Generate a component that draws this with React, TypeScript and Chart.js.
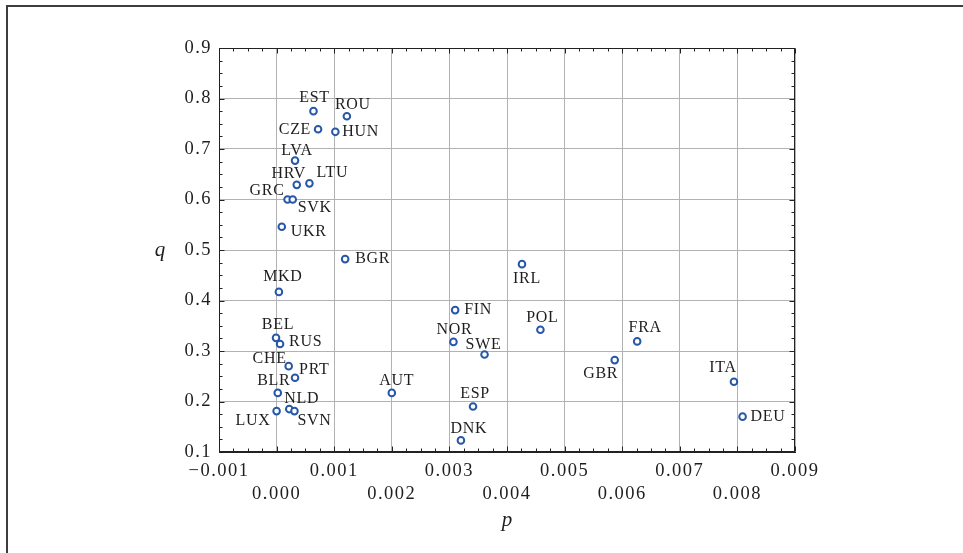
import React, { useEffect, useRef } from 'react';
import { Chart, registerables } from 'chart.js';

Chart.register(...registerables);

const countries = ['EST', 'ROU', 'CZE', 'HUN', 'LVA', 'HRV', 'LTU', 'GRC', 'SVK', 'UKR', 'BGR', 'MKD', 'BEL', 'RUS', 'CHE', 'PRT', 'BLR', 'LUX', 'NLD', 'SVN', 'AUT', 'FIN', 'NOR', 'SWE', 'POL', 'ESP', 'DNK', 'IRL', 'GBR', 'FRA', 'ITA', 'DEU'];
const pValues = [0.00064, 0.00122, 0.00072, 0.00102, 0.00032, 0.00035, 0.00057, 0.00019, 0.00028, 0.00009, 0.00119, 0.00004, -0.00001, 0.00006, 0.00021, 0.00032, 0.00002, 0.0, 0.00022, 0.00031, 0.002, 0.0031, 0.00307, 0.00361, 0.00458, 0.00341, 0.0032, 0.00426, 0.00587, 0.00626, 0.00794, 0.00809];
const qValues = [0.775, 0.765, 0.739, 0.734, 0.677, 0.629, 0.632, 0.6, 0.6, 0.546, 0.482, 0.417, 0.326, 0.314, 0.27, 0.247, 0.217, 0.181, 0.185, 0.181, 0.217, 0.381, 0.318, 0.293, 0.342, 0.19, 0.123, 0.472, 0.282, 0.319, 0.239, 0.17];

// label placement relative to each point: [dx, dy, textAlign]
const labelPlacement: [number, number, CanvasTextAlign][] = [
  [1, -13, 'center'], [6, -11, 'center'], [-7, 0, 'right'], [7, 0, 'left'],
  [2, -10, 'center'], [-8, -11, 'center'], [7, -11, 'left'], [-3, -9, 'right'],
  [5, 8, 'left'], [9, 5, 'left'], [10, 0, 'left'], [4, -15, 'center'],
  [2, -13, 'center'], [9, -2, 'left'], [-2, -7, 'right'], [4, -8, 'left'],
  [-4, -12, 'center'], [-6, 10, 'right'], [-5, -10, 'left'], [3, 10, 'left'],
  [5, -12, 'center'], [9, 0, 'left'], [1, -12, 'center'], [-1, -10, 'center'],
  [2, -12, 'center'], [2, -13, 'center'], [8, -12, 'center'], [5, 15, 'center'],
  [-14, 14, 'center'], [8, -14, 'center'], [-11, -14, 'center'], [8, 0, 'left'],
];

const xTickLabels = ['\u22120.001', '0.000', '0.001', '0.002', '0.003', '0.004', '0.005', '0.006', '0.007', '0.008', '0.009'];
const yTickLabels = ['0.1', '0.2', '0.3', '0.4', '0.5', '0.6', '0.7', '0.8', '0.9'];
const xTitle = 'p';
const yTitle = 'q';

const SERIF = "'Liberation Serif', 'DejaVu Serif', serif";
const TEXT = '#1e1e1e';

const framePlugin = {
  id: 'frameAndTicks',
  beforeDraw(chart: any) {
    chart.ctx.letterSpacing = '1.5px';
  },
  beforeDatasetsDraw(chart: any) {
    const { ctx, chartArea: a, scales } = chart;
    ctx.save();
    ctx.strokeStyle = '#222';
    ctx.lineWidth = 1;
    const L = Math.round(a.left) + 0.5, R = Math.round(a.right) - 0.5;
    const T = Math.round(a.top) + 0.5, B = Math.round(a.bottom) - 0.5;
    ctx.strokeRect(L, T, R - L, B - T);
    const xs = scales.x, ys = scales.y;
    ctx.beginPath();
    const xStep = 0.001 / 4;
    for (let i = 0; i <= 40; i++) {
      const v = -0.001 + i * xStep;
      const px = Math.round(xs.getPixelForValue(v)) + 0.5;
      const len = i % 4 === 0 ? 5 : 3;
      ctx.moveTo(px, B); ctx.lineTo(px, B - len);
      ctx.moveTo(px, T); ctx.lineTo(px, T + len);
    }
    const yStep = 0.1 / 4;
    for (let i = 0; i <= 32; i++) {
      const v = 0.1 + i * yStep;
      const py = Math.round(ys.getPixelForValue(v)) + 0.5;
      const len = i % 4 === 0 ? 5 : 3;
      ctx.moveTo(L, py); ctx.lineTo(L + len, py);
      ctx.moveTo(R, py); ctx.lineTo(R - len, py);
    }
    ctx.stroke();
    ctx.restore();
  },
  afterDatasetsDraw(chart: any) {
    const { ctx, chartArea: a } = chart;
    const meta = chart.getDatasetMeta(0);
    ctx.save();
    ctx.letterSpacing = '0.7px';
    ctx.fillStyle = TEXT;
    ctx.font = `16px ${SERIF}`;
    ctx.textBaseline = 'middle';
    meta.data.forEach((pt: any, i: number) => {
      const [dx, dy, align] = labelPlacement[i];
      ctx.textAlign = align;
      ctx.fillText(countries[i], pt.x + dx, pt.y + dy);
    });
    ctx.letterSpacing = '0px';
    ctx.font = `italic 21px ${SERIF}`;
    ctx.textAlign = 'center';
    ctx.fillText(yTitle, a.left - 59, (a.top + a.bottom) / 2);
    ctx.fillText(xTitle, (a.left + a.right) / 2, a.bottom + 68);
    ctx.restore();
  },
};

export default function App() {
  const ref = useRef<HTMLCanvasElement>(null);
  useEffect(() => {
    if (!ref.current) return;
    const chart = new Chart(ref.current, {
      type: 'scatter',
      data: {
        datasets: [
          {
            label: 'countries',
            data: pValues.map((p, i) => ({ x: p, y: qValues[i] })),
            pointRadius: 3.3,
            pointBorderWidth: 2,
            pointBorderColor: '#2657a8',
            pointBackgroundColor: '#ffffff',
            showLine: false,
          },
        ],
      },
      options: {
        responsive: false,
        animation: false,
        devicePixelRatio: 1,
        layout: { padding: { top: 48, right: 168, bottom: 0, left: 0 } },
        plugins: { legend: { display: false }, tooltip: { enabled: false } },
        scales: {
          x: {
            type: 'linear',
            min: -0.001,
            max: 0.009,
            afterFit: (s: any) => { s.height = 101; },
            afterBuildTicks: (s: any) => {
              s.ticks = xTickLabels.map((_, i) => ({ value: -0.001 + i * 0.001 }));
            },
            ticks: {
              autoSkip: false,
              maxRotation: 0,
              padding: 7,
              color: TEXT,
              font: { family: SERIF, size: 18.5, lineHeight: 1.26 },
              callback: (_v: any, i: number) => (i % 2 === 0 ? [xTickLabels[i], ''] : ['', xTickLabels[i]]),
            },
            grid: { color: '#b2b2b2', lineWidth: 1, drawTicks: false },
            border: { display: true, color: '#222' },
          },
          y: {
            type: 'linear',
            min: 0.1,
            max: 0.9,
            afterFit: (s: any) => { s.width = 219; },
            afterBuildTicks: (s: any) => {
              s.ticks = yTickLabels.map((_, i) => ({ value: 0.1 + i * 0.1 }));
            },
            ticks: {
              autoSkip: false,
              padding: 7,
              color: TEXT,
              font: { family: SERIF, size: 18.5 },
              callback: (_v: any, i: number) => yTickLabels[i],
            },
            grid: { color: '#b2b2b2', lineWidth: 1, drawTicks: false },
            border: { display: true, color: '#222' },
          },
        },
      },
      plugins: [framePlugin],
    });
    return () => chart.destroy();
  }, []);

  return (
    <div style={{ position: 'fixed', left: 0, top: 0, width: 963, height: 553, background: '#ffffff', overflow: 'hidden' }}>
      <div
        style={{
          position: 'absolute',
          left: 6,
          top: 5,
          right: -10,
          bottom: -10,
          borderTop: '2px solid #3d3d3d',
          borderLeft: '2px solid #3d3d3d',
        }}
      />
      <canvas ref={ref} width={963} height={553} style={{ position: 'absolute', left: 0, top: 0, width: 963, height: 553 }} />
    </div>
  );
}
